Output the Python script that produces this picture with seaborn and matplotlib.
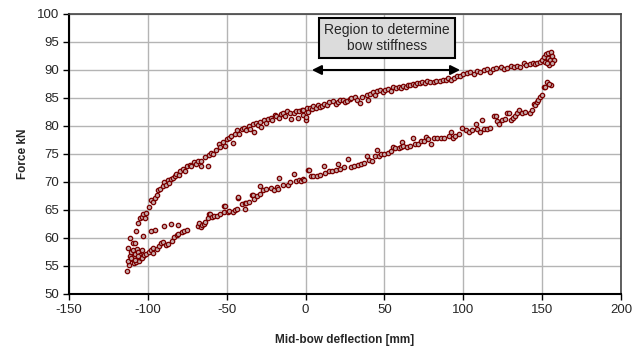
import matplotlib
matplotlib.use("Agg")
import matplotlib.pyplot as plt
import seaborn as sns
import pandas as pd
from matplotlib import font_manager

# ---------------- data ----------------
upper_x = [-113.2, -112.0, -112.6, -111.5, -110.8, -112.3, -110.2, -109.5, -109.0, -108.5,
           -108.0, -107.5, -107.2, -106.5, -106.0, -105.5, -105.0, -104.5, -103.8, -103.2,
           -111.3, -109.6, -108.0, -107.5, -106.0, -105.0, -104.0, -103.0, -102.0, -101.2,
           -99.1, -98.2, -96.5, -95.5, -94.4, -93.4, -92.0, -90.5, -89.5, -88.5,
           -87.5, -86.5, -85.5, -84.0, -83.0, -82.0, -80.5, -79.5, -78.0, -76.5,
           -75.0, -73.5, -72.5, -71.0, -69.5, -68.0, -66.3, -66.3, -64.0, -62.0,
           -61.5, -60.0, -58.5, -57.0, -55.0, -54.0, -52.5, -51.0, -50.0, -48.5,
           -47.0, -46.2, -45.0, -43.5, -42.0, -40.5, -39.0, -37.7, -36.0, -35.0,
           -33.5, -32.5, -31.5, -30.0, -29.0, -28.0, -26.5, -25.1, -24.0, -22.0,
           -21.0, -19.5, -18.5, -17.0, -15.5, -14.5, -13.0, -11.5, -10.0, -9.0,
           -7.5, -6.0, -4.5, -3.9, -2.5, -1.7, -1.5, 0.0, 0.0, 0.7,
           1.5, 2.5, 4.0, 5.0, 6.5, 7.9, 9.0, 10.5, 12.0, 13.5,
           15.0, 17.4, 19.0, 20.5, 22.0, 23.8, 25.0, 26.5, 28.0, 29.1,
           31.3, 32.5, 34.5, 36.0, 38.7, 39.8, 41.0, 42.5, 44.0, 45.5,
           47.2, 49.0, 50.5, 52.0, 54.0, 55.7, 57.5, 59.0, 60.3, 62.0,
           63.5, 65.0, 66.4, 68.0, 69.5, 70.8, 72.5, 74.0, 75.5, 77.0,
           79.0, 81.4, 83.0, 85.0, 87.0, 89.0, 90.5, 92.0, 94.0, 96.0,
           98.0, 100.0, 102.5, 104.5, 106.5, 108.5, 110.5, 113.1, 115.0, 117.2,
           119.0, 121.0, 123.7, 125.5, 127.8, 130.0, 132.0, 134.0, 136.0, 138.4,
           140.0, 142.0, 144.0, 145.5, 146.8, 148.5, 150.0, 151.1, 152.0, 152.5,
           153.5, 154.2, 154.0, 155.3, 155.0, 156.0, 157.4, 156.5, 153.0]
upper_y = [54.1, 55.1, 55.9, 56.8, 57.5, 58.3, 56.2, 57.8, 55.5, 56.6,
           57.2, 55.8, 58.0, 56.2, 57.5, 55.9, 57.0, 56.4, 57.8, 56.8,
           60.0, 59.1, 59.1, 61.2, 62.7, 63.5, 63.8, 64.3, 63.5, 64.4,
           65.6, 66.7, 66.5, 67.1, 67.7, 68.6, 68.8, 69.2, 70.0, 69.5,
           70.3, 69.8, 70.5, 70.8, 71.0, 71.5, 71.2, 72.0, 72.3, 72.0,
           72.8, 73.0, 72.8, 73.5, 73.2, 73.8, 73.7, 72.8, 74.5, 72.8,
           74.8, 75.2, 75.0, 75.8, 76.7, 76.2, 77.2, 76.5, 77.6, 77.8,
           78.3, 77.0, 78.5, 79.2, 78.5, 79.5, 79.7, 79.3, 80.0, 79.5,
           80.3, 79.0, 80.5, 80.2, 80.7, 79.8, 81.0, 80.5, 81.2, 81.5,
           81.0, 82.0, 81.8, 81.5, 82.2, 82.3, 81.7, 82.6, 82.3, 81.3,
           82.4, 82.7, 81.5, 82.6, 82.9, 82.9, 82.0, 81.1, 81.6, 83.2,
           82.5, 83.2, 83.0, 83.6, 83.2, 83.8, 83.4, 83.6, 84.0, 83.7,
           84.2, 84.4, 83.9, 84.3, 84.6, 84.7, 84.3, 84.5, 84.8, 85.0,
           85.25, 84.6, 84.1, 85.2, 85.5, 84.7, 85.8, 86.0, 85.5, 86.2,
           86.4, 86.0, 86.4, 86.6, 86.3, 87.0, 86.7, 86.9, 86.7, 87.2,
           87.0, 87.3, 87.3, 87.5, 87.3, 87.7, 87.6, 87.8, 87.6, 88.0,
           87.8, 87.9, 88.1, 88.0, 88.3, 88.2, 88.6, 88.3, 88.6, 88.9,
           89.0, 89.2, 89.4, 89.6, 89.3, 89.8, 89.7, 90.0, 90.1, 89.7,
           90.2, 90.3, 90.5, 90.2, 90.3, 90.7, 90.5, 90.8, 90.6, 91.2,
           90.9, 91.0, 91.3, 91.0, 91.3, 91.5, 91.8, 92.4, 91.5, 92.8,
           93.0, 90.9, 92.2, 93.3, 91.7, 92.5, 91.8, 91.3, 91.2]

lower_x = [-110.5, -108.0, -106.0, -104.0, -102.5, -101.4, -99.1, -98.0, -96.5, -96.5,
           -94.5, -92.7, -91.9, -90.6, -88.5, -87.0, -84.9, -83.4, -81.8, -80.7,
           -78.6, -76.9, -75.4, -102.9, -98.2, -95.5, -89.6, -85.3, -81.1, -68.0,
           -67.3, -66.5, -65.5, -64.5, -63.5, -62.0, -61.0, -60.6, -59.5, -57.8,
           -56.0, -54.0, -51.5, -51.5, -50.9, -49.5, -48.5, -45.8, -44.5, -43.7,
           -43.0, -42.9, -40.5, -38.4, -38.4, -37.7, -36.0, -34.2, -33.5, -32.5,
           -30.5, -29.0, -28.7, -26.8, -25.0, -22.0, -19.8, -18.4, -17.5, -16.6,
           -14.0, -11.3, -9.8, -7.1, -6.0, -4.0, -2.8, -1.8, -1.1, 1.3,
           2.1, 3.5, 4.7, 7.0, 9.0, 11.5, 12.5, 15.0, 17.0, 19.0,
           20.6, 22.0, 24.5, 27.0, 28.5, 30.5, 33.0, 35.0, 37.0, 38.7,
           40.5, 42.0, 44.0, 45.1, 46.5, 48.0, 50.0, 52.0, 54.0, 55.5,
           57.0, 59.0, 60.3, 61.0, 62.0, 64.5, 66.0, 68.3, 69.5, 71.0,
           73.0, 75.0, 76.1, 77.5, 79.5, 81.4, 83.5, 85.6, 88.0, 91.0,
           92.0, 93.5, 95.0, 97.0, 99.4, 101.5, 103.5, 105.5, 107.8, 109.0,
           110.5, 112.0, 113.0, 115.0, 117.2, 119.3, 120.5, 121.5, 122.5, 124.5,
           126.5, 127.8, 129.0, 130.0, 131.5, 133.0, 134.1, 135.2, 137.0, 139.0,
           142.6, 143.5, 144.7, 145.5, 146.5, 147.5, 148.9, 150.0, 151.1, 152.0,
           153.2, 155.3, 154.2]
lower_y = [56.5, 56.0, 56.8, 56.5, 56.9, 57.1, 57.5, 57.9, 57.3, 58.2,
           58.0, 58.5, 59.1, 59.2, 58.8, 58.9, 59.4, 60.2, 60.6, 60.7,
           61.1, 61.3, 61.5, 60.3, 61.2, 61.5, 62.1, 62.5, 62.3, 62.1,
           62.7, 61.9, 62.3, 62.5, 62.8, 63.5, 64.2, 64.3, 63.8, 63.9,
           64.0, 64.2, 64.6, 65.65, 65.7, 64.6, 64.9, 64.6, 65.0, 65.2,
           67.1, 67.3, 66.0, 65.2, 66.3, 66.25, 66.5, 67.7, 67.7, 67.0,
           67.5, 67.9, 69.2, 68.5, 68.7, 68.9, 68.6, 69.1, 68.8, 70.8,
           69.4, 69.5, 70.0, 71.5, 70.2, 70.3, 70.1, 70.5, 70.4, 72.2,
           72.2, 71.0, 71.0, 71.0, 71.3, 72.8, 71.6, 71.9, 72.0, 72.2,
           73.3, 72.4, 72.6, 74.1, 72.6, 72.9, 73.0, 73.3, 73.4, 74.6,
           74.0, 73.8, 74.7, 75.8, 74.7, 75.0, 75.0, 75.2, 75.6, 76.2,
           76.0, 76.0, 76.3, 77.2, 76.5, 76.2, 76.5, 77.8, 76.8, 76.8,
           77.4, 77.3, 78.1, 77.6, 76.8, 77.8, 77.8, 77.8, 77.8, 78.3,
           79.0, 77.9, 78.3, 78.5, 79.6, 79.3, 79.0, 79.2, 80.4, 79.4,
           78.9, 81.1, 79.5, 79.4, 79.6, 81.7, 81.7, 80.9, 80.3, 81.0,
           81.2, 82.3, 82.3, 81.1, 81.4, 81.7, 82.3, 82.9, 82.3, 82.5,
           82.3, 82.9, 84.0, 83.8, 84.2, 84.6, 85.2, 85.5, 87.0, 87.0,
           87.9, 87.3, 87.5]

x_ticks = [-150, -100, -50, 0, 50, 100, 150, 200]
y_ticks = [50, 55, 60, 65, 70, 75, 80, 85, 90, 95, 100]
x_label = "Mid-bow deflection [mm]"
y_label = "Force kN"
note_text = "Region to determine\nbow stiffness"
arrow_from = 4
arrow_to = 98
arrow_y = 90

# ---------------- style ----------------
sns.set_style("white")
names = {f.name for f in font_manager.fontManager.ttflist}
fam = "Liberation Sans Narrow" if "Liberation Sans Narrow" in names else "Liberation Sans"
plt.rcParams["font.family"] = [fam, "DejaVu Sans"]
plt.rcParams["axes.unicode_minus"] = False

df = pd.DataFrame({
    "x": upper_x + lower_x,
    "y": upper_y + lower_y,
})

fig = plt.figure(figsize=(6.43, 3.49), dpi=100)
ax = fig.add_axes([69 / 643, 1 - 294 / 349, 552 / 643, 280 / 349])

ax.set_xlim(-150, 200)
ax.set_ylim(50, 100)
ax.set_xticks(x_ticks)
ax.set_yticks(y_ticks)
ax.grid(True, color="#b4b4b4", linewidth=1.0)
ax.set_axisbelow(True)

sns.scatterplot(data=df, x="x", y="y", ax=ax, s=10, color="#c4a8a8",
                edgecolor="#7a0000", linewidth=0.9, zorder=3, legend=False)

for side in ["left", "bottom"]:
    ax.spines[side].set_color("black")
    ax.spines[side].set_linewidth(1.5)
for side in ["top", "right"]:
    ax.spines[side].set_color("#444444")
    ax.spines[side].set_linewidth(1.2)

ax.tick_params(axis="both", direction="out", length=4, width=1, color="black",
               labelsize=9.5, pad=3, left=True, bottom=True)
ax.set_xlabel(x_label, fontsize=8.5, fontweight="bold", labelpad=13)
ax.set_ylabel(y_label, fontsize=8.5, fontweight="bold", labelpad=6)

# annotation box and arrow
ax.annotate("", xy=(arrow_from, arrow_y), xytext=(arrow_to, arrow_y),
            arrowprops=dict(arrowstyle="<|-|>", color="black", lw=1.5,
                            mutation_scale=14, shrinkA=0, shrinkB=0), zorder=4)
ax.text(51.5, 95.7, note_text, ha="center", va="center", fontsize=10,
        linespacing=1.15, zorder=5,
        bbox=dict(boxstyle="square,pad=0.38", facecolor="#dcdcdc",
                  edgecolor="black", linewidth=1.5))

fig.savefig("out.png", dpi=100)
